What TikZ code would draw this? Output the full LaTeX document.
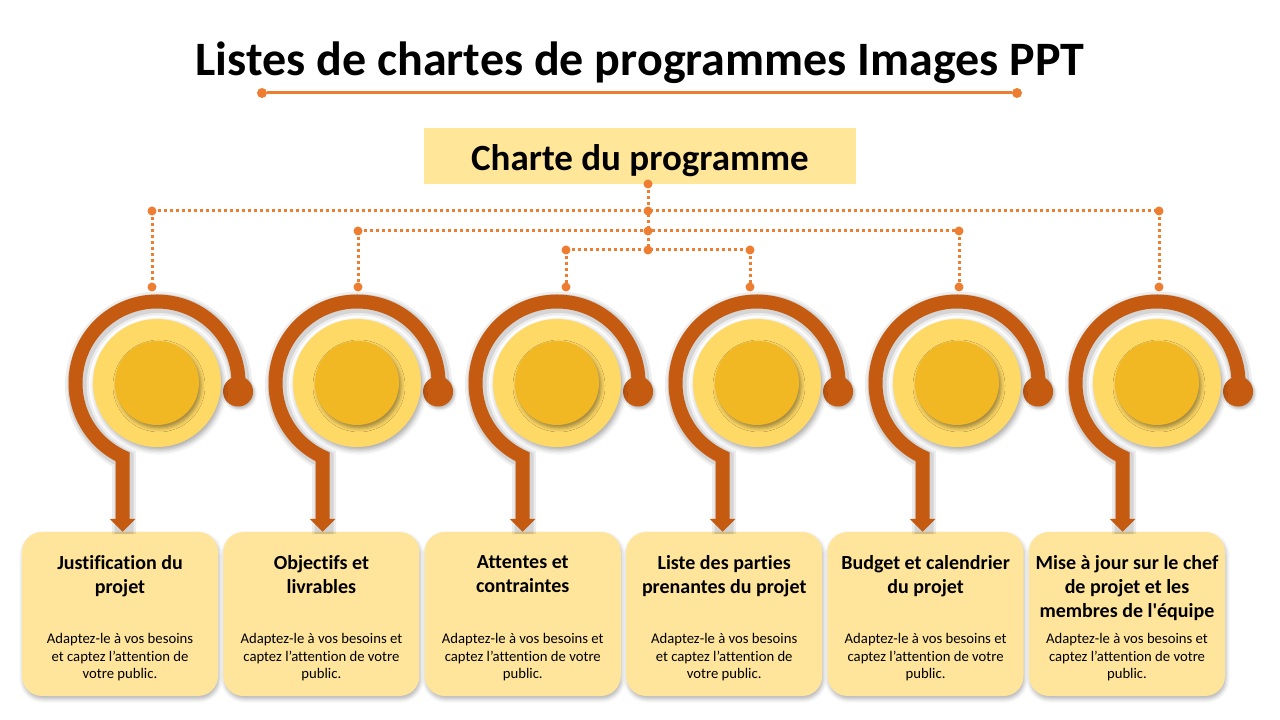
\documentclass[tikz,border=0pt]{standalone}
\usepackage{fontspec}
\setmainfont{Carlito}[Ligatures={TeX,CommonOff}]
\usetikzlibrary{shadows.blur,arrows.meta}
\definecolor{arcc}{HTML}{C55A11}
\definecolor{dotc}{HTML}{ED7D31}
\definecolor{ringc}{HTML}{FFD966}
\definecolor{corec}{HTML}{F2B824}
\definecolor{boxc}{HTML}{FEE59B}
\definecolor{headc}{HTML}{FFE699}
\newcommand{\bodyA}{Adaptez-le à vos besoins\\et captez l’attention de\\votre public.}
\newcommand{\bodyB}{Adaptez-le à vos besoins et\\captez l’attention de votre\\public.}
\begin{document}
\begin{tikzpicture}[x=1pt,y=1pt,
  dotline/.style={dotc, line width=3pt, dash pattern=on 3pt off 3pt},
  jdot/.style={circle, fill=dotc, inner sep=0pt, minimum size=9pt},
  ring/.style={circle, fill=ringc, minimum size=128pt, inner sep=0pt,
    blur shadow={shadow xshift=2pt, shadow yshift=-3pt, shadow blur radius=5pt, shadow opacity=35}},
  core/.style={circle, fill=corec, minimum size=84pt, inner sep=0pt,
    blur shadow={shadow xshift=2pt, shadow yshift=-3pt, shadow blur radius=4pt, shadow opacity=40}},
  ball/.style={circle, fill=arcc, minimum size=30pt, inner sep=0pt},
  arcline/.style={arcc, line width=14pt, -{Triangle[width=25pt,length=13pt]}},
  arcshadowA/.style={black, opacity=0.07, line width=24pt},
  arcshadowB/.style={black, opacity=0.10, line width=19pt},
  card/.style={rounded corners=20pt, fill=boxc, minimum width=196pt, minimum height=164pt, inner sep=0pt,
    blur shadow={shadow xshift=1pt, shadow yshift=-3pt, shadow blur radius=4pt, shadow opacity=30}},
  cardhead/.style={font=\bfseries\fontsize{20}{24}\selectfont, align=center, anchor=north},
  cardbody/.style={font=\fontsize{14.7}{17.5}\selectfont, align=center, anchor=north},
  headbox/.style={fill=headc, minimum width=432pt, minimum height=56pt, inner sep=0pt},
]
\useasboundingbox (0,0) rectangle (1280,720);

% title
\node[font=\bfseries\fontsize{48}{52}\selectfont, anchor=base] (title) at (640,644) {Listes de chartes de programmes Images PPT};
\node[jdot, minimum size=10pt] (tl) at (262,627) {};
\node[jdot, minimum size=10pt] (tr) at (1017,627) {};
\draw[dotc, line width=3pt] (tl) -- (tr);

% header box
\node[headbox] (hbox) at (640,564) {};
\node[font=\bfseries\fontsize{37}{40}\selectfont, anchor=base] (htext) at (640,549) {Charte du programme};

% cards
\foreach \i/\h/\b in {0/{Justification du\\projet}/A,
                      1/{Objectifs et\\livrables}/B,
                      2/{Attentes et\\contraintes}/B,
                      3/{Liste des parties\\prenantes du projet}/A,
                      4/{Budget et calendrier\\du projet}/B,
                      5/{Mise à jour sur le chef\\de projet et les\\membres de l\textquotesingle équipe}/B}{
  \pgfmathsetmacro{\bx}{120+201.4*\i}
  \node[card] (box\i) at (\bx,106) {};
  \node[cardhead] (head\i) at (\bx,168) {\h};
  \node[cardbody] (body\i) at (\bx,90) {\csname body\b\endcsname};
}

% units
\foreach \i in {0,...,5}{
  \pgfmathsetmacro{\cx}{157+200*\i}
  \pgfmathsetmacro{\ex}{\cx-34.44}
  \pgfmathsetmacro{\bx}{\cx+81.05}
  \coordinate (c\i) at (\cx,337);
  \coordinate (e\i) at (\ex,263.14);
  \begin{scope}[transform canvas={shift={(1.5pt,-2pt)}}]
    \draw[arcshadowA] (\bx,328.48) arc[start angle=-6, end angle=245, radius=81.5] -- (e\i |- box\i.north);
    \draw[arcshadowB] (\bx,328.48) arc[start angle=-6, end angle=245, radius=81.5] -- (e\i |- box\i.north);
  \end{scope}
  \node[ball, blur shadow={shadow xshift=1.5pt, shadow yshift=-2pt, shadow blur radius=3pt, shadow opacity=30}] (ball\i) at (\bx,328.48) {};
  \draw[arcline] (ball\i.center) arc[start angle=-6, end angle=245, radius=81.5] -- (e\i |- box\i.north);
  \node[ring] (ring\i) at (c\i) {};
  \node[core] (core\i) at (c\i) {};
}

% dotted connectors
\node[jdot] (t0) at (648,536) {};
\node[jdot] (m1) at (648,509) {};
\node[jdot] (m2) at (648,489) {};
\node[jdot] (m3) at (648,470) {};
\node[jdot] (l1) at (152,509) {};
\node[jdot] (r1) at (1159,509) {};
\node[jdot] (l2) at (358,489) {};
\node[jdot] (r2) at (959,489) {};
\node[jdot] (l3) at (566,470) {};
\node[jdot] (r3) at (750,470) {};
\node[jdot] (d0) at (152,433) {};
\node[jdot] (d1) at (358,433) {};
\node[jdot] (d2) at (566,433) {};
\node[jdot] (d3) at (750,433) {};
\node[jdot] (d4) at (959,433) {};
\node[jdot] (d5) at (1159,433) {};
\draw[dotline] (t0.center) -- (m3.center);
\draw[dotline] (l1.center) -- (r1.center);
\draw[dotline] (l2.center) -- (r2.center);
\draw[dotline] (l3.center) -- (r3.center);
\draw[dotline] (l1.center) -- (d0.center);
\draw[dotline] (l2.center) -- (d1.center);
\draw[dotline] (l3.center) -- (d2.center);
\draw[dotline] (r3.center) -- (d3.center);
\draw[dotline] (r2.center) -- (d4.center);
\draw[dotline] (r1.center) -- (d5.center);
\end{tikzpicture}
\end{document}
